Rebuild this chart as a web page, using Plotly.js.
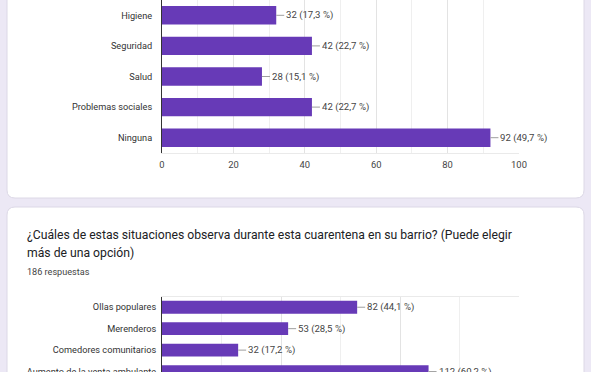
<!DOCTYPE html>
<html>
<head>
<meta charset="utf-8">
<script src="https://cdn.plot.ly/plotly-3.0.1.min.js"></script>
<style>
html,body{margin:0;padding:0;background:#ece8f5;overflow:hidden;}
#chart{width:591px;height:372px;}
</style>
</head>
<body>
<div id="chart"></div>
<script>
// Chart 1 (top card, partially visible)
const cats1 = ["Higiene", "Seguridad", "Salud", "Problemas sociales", "Ninguna"];
const vals1 = [32, 42, 28, 42, 92];
const pcts1 = ["17,3", "22,7", "15,1", "22,7", "49,7"];
const ticks1 = [0, 20, 40, 60, 80, 100];

// Chart 2 (bottom card)
const title2a = "¿Cuáles de estas situaciones observa durante esta cuarentena en su barrio? (Puede elegir";
const title2b = "más de una opción)";
const responses2 = "186 respuestas";
const cats2 = ["Ollas populares", "Merenderos", "Comedores comunitarios", "Aumento de la venta ambulante"];
const vals2 = [82, 53, 32, 112];
const pcts2 = ["44,1", "28,5", "17,2", "60,2"];

const W = 591, H = 372;
const px = x => x / W;
const py = y => 1 - y / H;

const barColor = "#673ab7";
const font = "Roboto, Arial, sans-serif";

function roundRect(x0, y0, x1, y1, r) {
  const rx = r / W, ry = r / H;
  const X0 = px(x0), X1 = px(x1), Y0 = py(y0), Y1 = py(y1);
  return `M ${X0 + rx},${Y0} L ${X1 - rx},${Y0} Q ${X1},${Y0} ${X1},${Y0 - ry} ` +
         `L ${X1},${Y1 + ry} Q ${X1},${Y1} ${X1 - rx},${Y1} L ${X0 + rx},${Y1} ` +
         `Q ${X0},${Y1} ${X0},${Y1 + ry} L ${X0},${Y0 - ry} Q ${X0},${Y0} ${X0 + rx},${Y0} Z`;
}

const traces = [
  {type: "bar", orientation: "h", x: vals1, y: cats1, xaxis: "x", yaxis: "y",
   marker: {color: barColor}, width: 0.6, hoverinfo: "none"},
  {type: "bar", orientation: "h", x: vals2, y: cats2, xaxis: "x2", yaxis: "y2",
   marker: {color: barColor}, width: 0.6, hoverinfo: "none"}
];

const annotations = [];
function addLabels(vals, cats, pcts, xa, ya) {
  vals.forEach((v, i) => {
    annotations.push({
      x: v, y: cats[i], xref: xa, yref: ya,
      text: `${v} (${pcts[i]} %)`,
      showarrow: true, arrowhead: 0, arrowwidth: 1, arrowcolor: "#9e9e9e",
      ax: 8, ay: 0, xanchor: "left", yanchor: "middle", standoff: 0,
      font: {family: font, size: 9.6, color: "#444"}
    });
  });
}
addLabels(vals1, cats1, pcts1, "x", "y");
addLabels(vals2, cats2, pcts2, "x2", "y2");

annotations.push(
  {x: px(25), y: py(235), xref: "paper", yref: "paper", xanchor: "left", yanchor: "middle",
   text: title2a, showarrow: false, font: {family: font, size: 12.2, color: "#202124"}},
  {x: px(25), y: py(253), xref: "paper", yref: "paper", xanchor: "left", yanchor: "middle",
   text: title2b, showarrow: false, font: {family: font, size: 12.2, color: "#202124"}},
  {x: px(25), y: py(272), xref: "paper", yref: "paper", xanchor: "left", yanchor: "middle",
   text: responses2, showarrow: false, font: {family: font, size: 9.1, color: "#444"}}
);

const shapes = [
  {type: "path", xref: "paper", yref: "paper", layer: "below",
   path: roundRect(7, -20, 584, 198, 8), fillcolor: "#ffffff", line: {color: "#dcd8e6", width: 1}},
  {type: "path", xref: "paper", yref: "paper", layer: "below",
   path: roundRect(7, 207, 584, 392, 8), fillcolor: "#ffffff", line: {color: "#dcd8e6", width: 1}}
];

const gridMajor = "#e3e3e3", gridMinor = "#efefef";

const layout = {
  width: W, height: H,
  margin: {l: 0, r: 0, t: 0, b: 0},
  paper_bgcolor: "#ece8f5",
  plot_bgcolor: "rgba(0,0,0,0)",
  showlegend: false,
  font: {family: font, color: "#333"},
  xaxis: {
    domain: [px(162), px(519)], range: [0, 100], tickvals: ticks1,
    showgrid: true, gridcolor: gridMajor, gridwidth: 1,
    minor: {dtick: 10, showgrid: true, gridcolor: gridMinor},
    zeroline: false, showline: true, linecolor: "#eaeaea", mirror: false,
    ticks: "", ticklabelstandoff: 3, tickfont: {family: font, size: 9.4, color: "#444"}, anchor: "y",
    fixedrange: true
  },
  yaxis: {
    domain: [py(153), 1], range: [4.5, -0.5], type: "category",
    showgrid: false, zeroline: false, showline: true, linecolor: "#333", linewidth: 1,
    ticks: "", ticklabelstandoff: 7, tickfont: {family: font, size: 9.2, color: "#333"},
    anchor: "x", fixedrange: true
  },
  xaxis2: {
    domain: [px(162), px(519)], range: [0, 150], dtick: 50,
    showgrid: true, gridcolor: gridMajor, gridwidth: 1,
    minor: {dtick: 25, showgrid: true, gridcolor: gridMinor},
    zeroline: false, showline: true, linecolor: "#eaeaea", side: "top",
    showticklabels: false, ticks: "", anchor: "y2", fixedrange: true
  },
  yaxis2: {
    domain: [0, py(296.5)], range: [3.02, -0.5], type: "category",
    showgrid: false, zeroline: false, showline: true, linecolor: "#333", linewidth: 1,
    ticks: "", ticklabelstandoff: 3, tickfont: {family: font, size: 9.2, color: "#333"},
    anchor: "x2", fixedrange: true
  },
  shapes: shapes,
  annotations: annotations
};

Plotly.newPlot("chart", traces, layout, {displayModeBar: false, staticPlot: true});
</script>
</body>
</html>
